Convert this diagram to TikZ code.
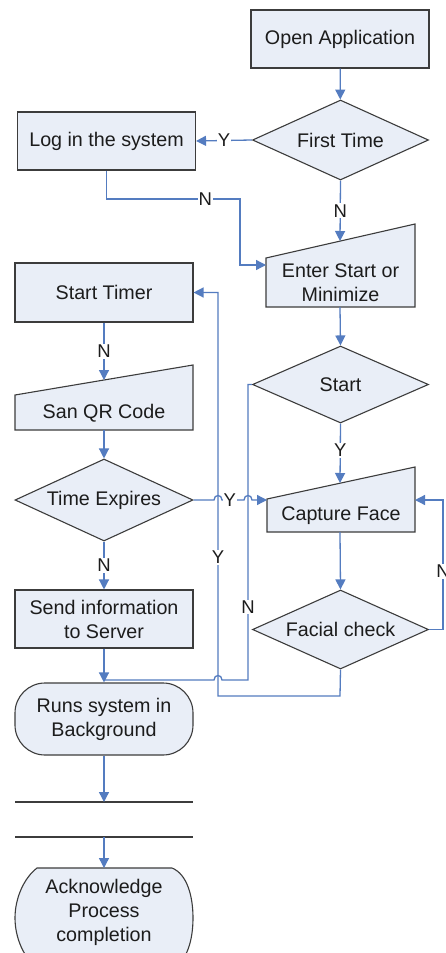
\documentclass[tikz,border=0pt]{standalone}
\usepackage{fontspec}
\setmainfont{Liberation Sans}
\usetikzlibrary{shapes.geometric,arrows.meta}
\definecolor{boxfill}{RGB}{233,238,247}
\definecolor{boxline}{RGB}{60,60,60}
\definecolor{flowblue}{RGB}{84,124,192}
\definecolor{inktext}{RGB}{28,28,28}
\tikzset{
  box/.style={draw=boxline, fill=boxfill, line width=1.1pt, text=inktext,
    minimum width=178pt, minimum height=58pt, inner sep=0pt, align=center},
  decision/.style={diamond, aspect=2.2, draw=boxline, fill=boxfill, line width=1.1pt,
    text=inktext, minimum width=176pt, minimum height=80pt, inner sep=0pt, align=center},
  terminal/.style={box, rounded corners=30pt, minimum height=72pt},
  shapeline/.style={draw=boxline, fill=boxfill, line width=1.1pt},
  txt/.style={text=inktext, align=center, inner sep=0pt},
  flow/.style={draw=flowblue, line width=1.3pt, -{Triangle[length=10pt,width=10pt]}},
  wire/.style={draw=flowblue, line width=1.3pt},
  lbl/.style={fill=white, text=inktext, inner sep=1pt, font=\fontsize{18.5}{20}\selectfont}
}
\begin{document}
\begin{tikzpicture}[x=1pt, y=-1pt, font=\fontsize{19.7}{24}\selectfont]
\useasboundingbox (0,0) rectangle (446,953);
\clip (0,0) rectangle (446,953);
\fill[white] (0,0) rectangle (446,953);

% right column
\node[box] (open) at (340,39) {Open Application};
\node[decision] (first) at (340.5,140) {First Time};
\node[box] (login) at (106.5,141) {Log in the system};

% manual input: Enter Start or Minimize
\draw[shapeline] (266,307) -- (415,307) -- (415,224) -- (266,258) -- cycle;
\node[txt] (enter) at (340.5,283) {Enter Start or\\Minimize};
\coordinate (enter-top) at (340,241);
\coordinate (enter-bot) at (340,307);
\coordinate (enter-in) at (266,265);

\node[decision, minimum height=77pt] (start) at (340.5,384.5) {Start};

% manual input: Capture Face
\draw[shapeline] (267,532) -- (415,532) -- (415,467) -- (267,499) -- cycle;
\node[txt] (capture) at (341,516) {Capture Face};
\coordinate (capture-top) at (340,483);
\coordinate (capture-bot) at (340,532);
\coordinate (capture-in) at (267,500);
\coordinate (capture-back) at (415,500);

\node[decision, minimum height=79pt] (facial) at (340.5,629.5) {Facial check};

% left column
\node[box, minimum height=59pt] (timer) at (104,292.5) {Start Timer};

% manual input: San QR Code
\draw[shapeline] (15,430) -- (193,430) -- (193,365) -- (15,395) -- cycle;
\node[txt] (qr) at (104,413) {San QR Code};
\coordinate (qr-top) at (104,380);
\coordinate (qr-bot) at (104,430);

\node[decision, minimum width=178pt, minimum height=82pt] (expires) at (104,500) {Time Expires};
\node[box] (send) at (104,619) {Send information\\to Server};
\node[terminal] (runs) at (104,719) {Runs system in\\Background};

% two bars
\draw[boxline, line width=1.1pt] (15,802) -- (193,802);
\draw[boxline, line width=1.1pt] (15,837) -- (193,837);
\coordinate (bar1) at (104,802);
\coordinate (bar2) at (104,837);

% display shape: Acknowledge Process completion
\draw[shapeline] (37,868) -- (172,868)
  .. controls (187,874) and (193,896) .. (193,918)
  .. controls (193,940) and (187,962) .. (172,968)
  -- (37,968)
  .. controls (24,958) and (15,938) .. (15,918)
  .. controls (15,898) and (24,878) .. (37,868) -- cycle;
\node[txt] (ack) at (104,912) {Acknowledge\\Process\\completion};
\coordinate (ack-top) at (104,868);

% connectors
\draw[flow] (open) -- (first);
\draw[flow] (first.west) -- node[lbl] {Y} (login.east);
\coordinate (j1) at (240,199);
\draw[flow] (login.south) |- node[lbl, pos=0.87] {N} (j1) |- (enter-in);
\draw[flow] (first.south) -- node[lbl] {N} (enter-top);
\draw[flow] (enter-bot) -- (start.north);
\draw[flow] (start.south) -- node[lbl, pos=0.45] {Y} (capture-top);
\draw[flow] (capture-bot) -- (facial.north);
\coordinate (r1) at (443,629.5);
\coordinate (r2) at (443,500);
\draw[flow] (facial.east) -- (r1) -- node[lbl, pos=0.45] {N} (r2) -- (capture-back);

\draw[flow] (timer.south) -- node[lbl] {N} (qr-top);
\draw[flow] (qr-bot) -- (expires.north);
\draw[flow] (expires.south) -- node[lbl] {N} (send.north);
\draw[flow] (send.south) -- (runs.north);
\draw[flow] (runs.south) -- (bar1);
\draw[flow] (bar2) -- (ack-top);

% Facial check (Y) back to Start Timer
\coordinate (a1) at (340,696);
\coordinate (a2) at (218,696);
\coordinate (a3) at (218,292.5);
\draw[flow] (facial.south) -- (a1) -- (a2) -- node[lbl, pos=0.344] {Y} (a3) -- (timer.east);

% Start (N) down to Runs system, hopping over the line above
\coordinate (b1) at (248,384.5);
\coordinate (b2) at (248,680);
\coordinate (b3) at (104,680);
\draw[wire] (start.west) -- (b1) -- node[lbl, pos=0.753] {N} (b2) -- (222,680)
  .. controls (222,674) and (214,674) .. (214,680) -- (b3);

% Time Expires (Y) to Capture Face, hopping over both vertical lines
\draw[flow] (expires.east) -- (214,500)
  .. controls (214,494) and (222,494) .. (222,500)
  -- node[lbl, pos=0.35] {Y} (244,500)
  .. controls (244,494) and (252,494) .. (252,500)
  -- (capture-in);
\end{tikzpicture}
\end{document}
